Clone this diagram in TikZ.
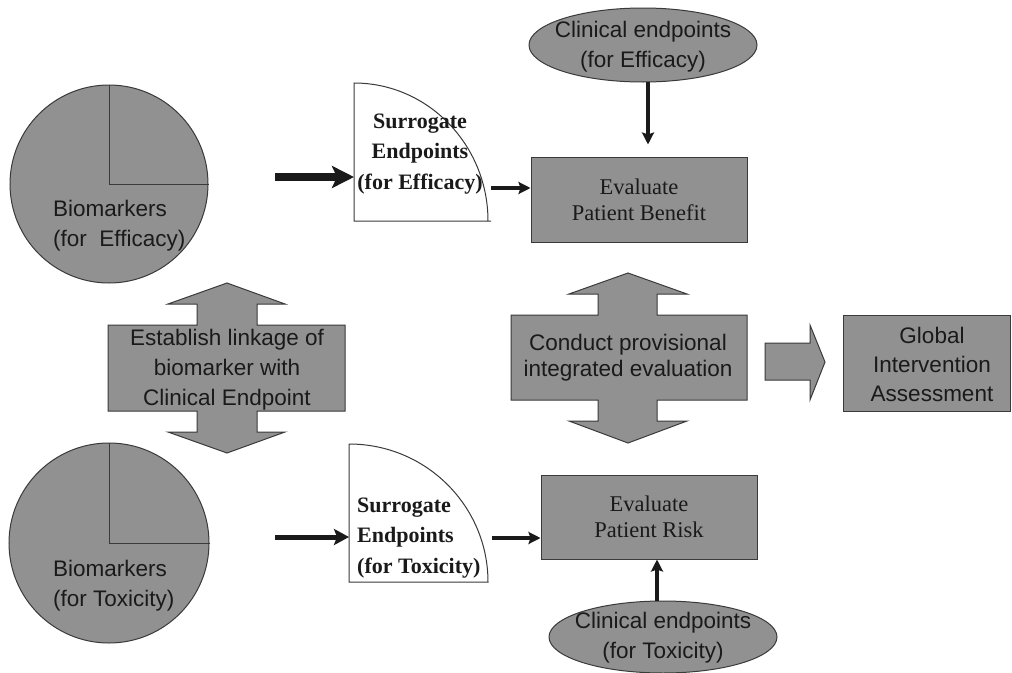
\documentclass[tikz,border=0pt]{standalone}
\usepackage{fontspec}
\setmainfont{Liberation Serif}
\setsansfont{Liberation Sans}
\usetikzlibrary{arrows.meta,shapes.geometric}
\definecolor{fillg}{HTML}{919191}
\definecolor{edgec}{HTML}{3A3A3A}
\definecolor{ink}{HTML}{1A1A1A}
\begin{document}
\begin{tikzpicture}[x=1pt,y=-1pt,
  graybox/.style={fill=fillg,draw=edgec,line width=1pt},
  sanstxt/.style={font=\sffamily\fontsize{22.5}{30}\selectfont,text=ink,align=center,inner sep=0pt},
  evaltxt/.style={font=\rmfamily\fontsize{22.5}{26}\selectfont,text=ink,align=center,inner sep=0pt},
  surtxt/.style={font=\rmfamily\bfseries\fontsize{22}{30.5}\selectfont,text=ink,inner sep=0pt},
  bigarrow/.style={draw=ink,line width=8pt,-{Stealth[length=22pt,width=22pt,inset=5pt]}},
  midarrow/.style={draw=ink,line width=5pt,-{Stealth[length=15pt,width=16pt,inset=3pt]}},
  medarrow/.style={draw=ink,line width=4pt,-{Stealth[length=12pt,width=12pt,inset=2pt]}},
  thinline/.style={draw=edgec,line width=1pt}
]
\useasboundingbox[fill=white] (0,0) rectangle (1012,672);

% pies
\node[circle,graybox,minimum size=198pt,inner sep=0pt] (bioE) at (109,184) {};
\draw[thinline] (bioE.north) -- (bioE.center) -- (bioE.east);
\node[sanstxt,align=left,anchor=west] (bioEt) at (53,226) {Biomarkers\\(for\ \ Efficacy)};

\node[circle,graybox,minimum size=200pt,inner sep=0pt] (bioT) at (109,543) {};
\draw[thinline] (bioT.north) -- (bioT.center) -- (bioT.east);
\node[sanstxt,align=left,anchor=west] (bioTt) at (53,586) {Biomarkers\\(for Toxicity)};

% surrogate shapes
\draw[thinline,fill=white] (354,221) -- (354,83) .. controls (428,83) and (488,145) .. (488,221) -- (491,221) -- cycle;
\node[surtxt,align=center] (seE) at (420,154) {Surrogate\\Endpoints\\(for Efficacy)};
\draw[thinline,fill=white] (349,582) -- (349,444) .. controls (426,444) and (488,506) .. (488,582) -- cycle;
\node[surtxt,align=left,anchor=west] (seT) at (357,538) {Surrogate\\Endpoints\\(for Toxicity)};

% evaluate boxes
\node[graybox,minimum width=216pt,minimum height=85pt,evaltxt] (evB) at (639,199.5) {Evaluate\\Patient Benefit};
\node[graybox,minimum width=216pt,minimum height=84pt,evaltxt] (evR) at (649,517) {Evaluate\\Patient Risk};

% clinical endpoint ellipses
\node[ellipse,graybox,minimum width=228pt,minimum height=74pt,inner sep=0pt] (clE) at (643,45) {};
\node[sanstxt] (clEt) at (643,47) {Clinical endpoints\\(for Efficacy)};
\node[ellipse,graybox,minimum width=228pt,minimum height=72pt,inner sep=0pt] (clT) at (663,637) {};
\node[sanstxt] (clTt) at (663,638) {Clinical endpoints\\(for Toxicity)};

% establish linkage double arrow
\draw[graybox] (108,325) -- (197,325) -- (197,304) -- (168,304) -- (227,283) -- (285,304) -- (257,304) -- (257,325) -- (345,325) -- (345,411) -- (257,411) -- (257,432) -- (285,432) -- (227,453) -- (168,432) -- (197,432) -- (197,411) -- (108,411) -- cycle;
\node[sanstxt] (link) at (227,370) {Establish linkage of\\biomarker with\\Clinical Endpoint};

% conduct provisional double arrow
\draw[graybox] (511,315) -- (598,315) -- (598,294) -- (569,294) -- (628,273) -- (687,294) -- (657,294) -- (657,315) -- (747,315) -- (747,400) -- (657,400) -- (657,421) -- (687,421) -- (628,443) -- (569,421) -- (598,421) -- (598,400) -- (511,400) -- cycle;
\node[sanstxt,font=\sffamily\fontsize{22.5}{26}\selectfont] (cond) at (628,358) {Conduct provisional\\integrated evaluation};

% right block arrow
\draw[graybox] (765,343) -- (810,343) -- (810,325) -- (825,362) -- (810,400) -- (810,380) -- (765,380) -- cycle;

% global box
\node[graybox,minimum width=167pt,minimum height=96pt] (glob) at (926.5,363) {};
\node[sanstxt,font=\sffamily\fontsize{22.5}{29}\selectfont] (globt) at (932,364) {Global\\Intervention\\Assessment};

% connectors
\coordinate (aE) at (275,177);
\coordinate (seEin) at (354,177);
\draw[bigarrow] (aE) -- (seEin);
\coordinate (seEout) at (491,188);
\draw[medarrow] (seEout) -- (seEout -| evB.west);
\coordinate (aT) at (275,537);
\coordinate (seTin) at (349,537);
\draw[midarrow] (aT) -- (seTin);
\coordinate (seTout) at (492,538);
\draw[medarrow] (seTout) -- (seTout -| evR.west);
\coordinate (clEb) at (648,82);
\draw[medarrow,shorten >=12pt] (clEb) -- (clEb |- evB.north);
\coordinate (clTtop) at (657,601);
\draw[medarrow] (clTtop) -- (clTtop |- evR.south);
\end{tikzpicture}
\end{document}
